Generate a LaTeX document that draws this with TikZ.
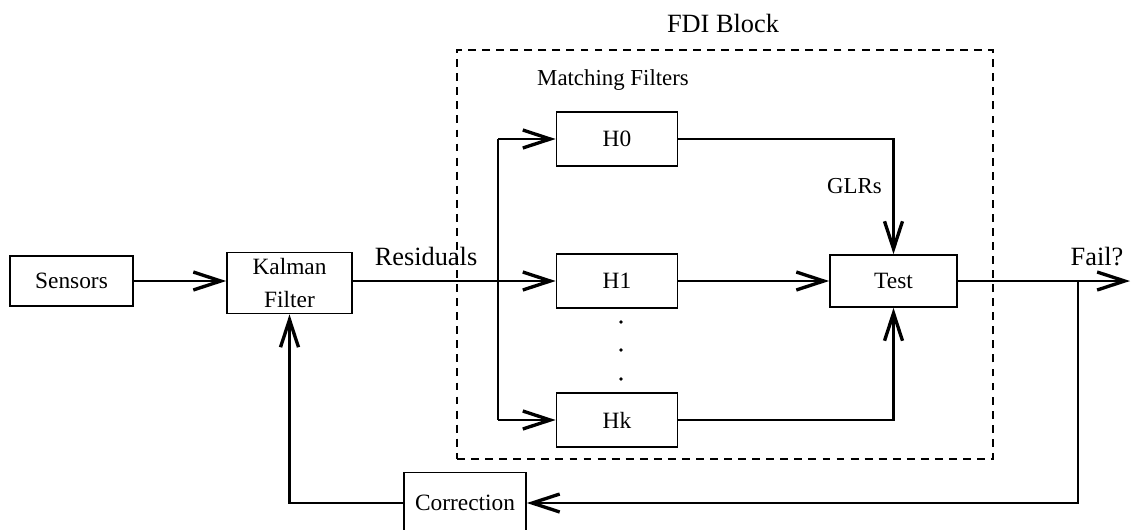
\documentclass[tikz,border=0pt]{standalone}
\usepackage{fontspec}
\setmainfont{Liberation Serif}
\usetikzlibrary{arrows.meta,positioning,calc}
\tikzset{
  blockBox/.style={draw, line width=1pt, inner sep=0pt, align=center, font=\fontsize{13.3}{19}\selectfont},
  filterBox/.style={blockBox, minimum width=2.42cm, minimum height=1.08cm},
  fdiFrame/.style={draw, line width=1.2pt, dash pattern=on 4.5pt off 3.5pt, inner sep=0pt},
  flowArrow/.style={-{Straight Barb[length=5.5mm,width=3.6mm,line width=1.9pt]}, line width=1.3pt},
  flowLine/.style={line width=1.3pt},
  bigLabel/.style={font=\fontsize{15}{18}\selectfont},
  smallLabel/.style={font=\fontsize{13}{15}\selectfont}
}

\begin{document}
\begin{tikzpicture}[x=0.02cm,y=-0.02cm]
  \useasboundingbox (0,0) rectangle (1131,529);
  % FDI block frame and titles
  \node[fdiFrame, minimum width=10.72cm, minimum height=8.18cm] (fdibox) at (725,254.5) {};
  \node[bigLabel] (fdi) at (723,23) {FDI Block};
  \node[smallLabel] (match) at (613,80) {Matching Filters};
  % main chain
  \node[blockBox, minimum width=2.46cm, minimum height=1cm] (sensors) at (71.5,281) {Sensors};
  \node[blockBox, minimum width=2.5cm, minimum height=1.22cm] (kalman) at (289.5,283) {Kalman\\Filter};
  \node[filterBox] (h0) at (617,139) {H0};
  \node[filterBox] (h1) at (617,281) {H1};
  \node[filterBox] (hk) at (617,420) {Hk};
  \node[blockBox, minimum width=2.54cm, minimum height=1.04cm] (test) at (893.5,281) {Test};
  \node[blockBox, minimum width=2.44cm, minimum height=1.22cm] (correction) at (465,503) {Correction};
  % signal labels
  \node[bigLabel] (resid) at (426,256) {Residuals};
  \node[bigLabel] (fail) at (1097,257) {Fail?};
  \node[smallLabel, anchor=east] (glrs) at (888,186) {GLRs};
  % filter bank fan-out
  \coordinate (split) at (498,281);
  \coordinate (tap) at (1078,281);
  \coordinate (out) at (1130,281);
  \draw[flowArrow] (sensors) -- (kalman.west |- sensors);
  \draw[flowArrow] (kalman.east |- h1) -- (h1);
  \draw[flowLine] (split |- h0) -- (split |- hk);
  \draw[flowArrow] (split |- h0) -- (h0);
  \draw[flowArrow] (split |- hk) -- (hk);
  % hypothesis outputs into the test
  \draw[flowArrow] (h0.east) -| (test.north);
  \draw[flowArrow] (h1) -- (test);
  \draw[flowArrow] (hk.east) -| (test.south);
  \foreach \y in {322,350,379}
    \fill (621,\y) circle (1.1pt);
  % decision and feedback loop
  \draw[flowArrow] (test) -- (out);
  \draw[flowArrow] (tap) |- (correction);
  \draw[flowArrow] (correction) -| (kalman);
\end{tikzpicture}
\end{document}
